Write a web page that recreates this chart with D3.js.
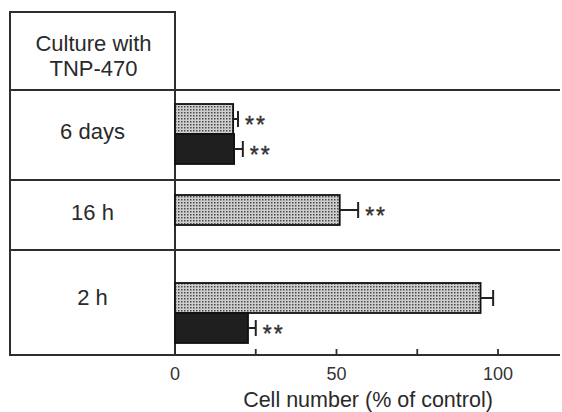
<!DOCTYPE html>
<html>
<head>
<meta charset="utf-8">
<script src="https://cdn.jsdelivr.net/npm/d3@7/dist/d3.min.js"></script>
<style>
  html, body { margin: 0; padding: 0; background: #fff; }
  svg { display: block; font-family: "Liberation Sans", Arial, Helvetica, sans-serif; }
</style>
</head>
<body>
<svg id="chart" width="562" height="412"></svg>
<script>
// ---------- data ----------
const categories = ["6 days", "16 h", "2 h"];
const seriesNames = ["stippled", "dark"];
const stippledValues = [18, 51, 94.6];
const stippledErrors = [1.5, 5.7, 3.9];
const stippledSig = ["**", "**", ""];
const darkValues = [18.3, null, 22.6];
const darkErrors = [2.7, null, 2.4];
const darkSig = ["**", null, "**"];
const majorTicks = [0, 50, 100];
const minorTicks = [25, 75];
const tickLabels = ["0", "50", "100"];
const headerLines = ["Culture with", "TNP-470"];
const xTitle = "Cell number (% of control)";

// ---------- layout ----------
const leftX = 10, axisX = 175, rightX = 560;
const topY = 12, headerBottom = 90, bottomY = 355;
const rowBottoms = [180, 250, 355];
const groupTops = [104, 195, 283];
const labelBaselines = [139, 220, 305];
const barH = 30;

const svg = d3.select("#chart");

const defs = svg.append("defs");
const pat = defs.append("pattern")
  .attr("id", "stipple").attr("patternUnits", "userSpaceOnUse")
  .attr("width", 3).attr("height", 3);
pat.append("rect").attr("width", 3).attr("height", 3).attr("fill", "#cecece");
pat.append("rect").attr("x", 1).attr("y", 1).attr("width", 1.5).attr("height", 1.5).attr("fill", "#4a4a4a");

const x = d3.scaleLinear().domain([0, 100]).range([axisX, 498]);
const yGroup = d3.scaleOrdinal().domain(categories).range(groupTops);
const ySeries = d3.scaleBand().domain(seriesNames).range([0, 2 * barH]);

const lineColor = "#2e2e2e";
const lw = 2;
const textColor = "#2a2a2a";

// table frame
const g = svg.append("g");
g.append("line").attr("x1", leftX).attr("x2", axisX).attr("y1", topY).attr("y2", topY)
  .attr("stroke", lineColor).attr("stroke-width", lw);
g.append("line").attr("x1", leftX).attr("x2", leftX).attr("y1", topY - 1).attr("y2", bottomY + 1)
  .attr("stroke", lineColor).attr("stroke-width", lw);
g.append("line").attr("x1", axisX).attr("x2", axisX).attr("y1", topY - 1).attr("y2", bottomY)
  .attr("stroke", lineColor).attr("stroke-width", lw);
[headerBottom].concat(rowBottoms.slice(0, 2)).forEach(yy => {
  g.append("line").attr("x1", leftX).attr("x2", rightX).attr("y1", yy).attr("y2", yy)
    .attr("stroke", lineColor).attr("stroke-width", lw);
});

// header text
g.selectAll("text.header").data(headerLines).join("text")
  .attr("class", "header")
  .attr("x", (leftX + axisX) / 2 + 1)
  .attr("y", (d, i) => 51 + i * 25)
  .attr("text-anchor", "middle")
  .attr("font-size", 22)
  .attr("fill", textColor)
  .text(d => d);

// category labels
g.selectAll("text.cat").data(categories).join("text")
  .attr("class", "cat")
  .attr("x", (leftX + axisX) / 2)
  .attr("y", (d, i) => labelBaselines[i])
  .attr("text-anchor", "middle")
  .attr("font-size", 22)
  .attr("fill", textColor)
  .text(d => d);

// bars
const barData = [];
categories.forEach((c, i) => {
  barData.push({cat: c, s: "stippled", v: stippledValues[i], e: stippledErrors[i], sig: stippledSig[i]});
  if (darkValues[i] != null) barData.push({cat: c, s: "dark", v: darkValues[i], e: darkErrors[i], sig: darkSig[i]});
});

const bars = svg.append("g");
bars.selectAll("rect").data(barData).join("rect")
  .attr("x", x(0))
  .attr("y", d => yGroup(d.cat) + ySeries(d.s))
  .attr("width", d => x(d.v) - x(0))
  .attr("height", ySeries.bandwidth())
  .attr("fill", d => d.s === "stippled" ? "url(#stipple)" : "#1f1f1f")
  .attr("stroke", "#111")
  .attr("stroke-width", 1.8);

// error bars
const capH = 16;
const err = svg.append("g").attr("stroke", "#222").attr("stroke-width", 2);
barData.forEach(d => {
  const cy = yGroup(d.cat) + ySeries(d.s) + ySeries.bandwidth() / 2;
  err.append("line").attr("x1", x(d.v)).attr("x2", x(d.v + d.e)).attr("y1", cy).attr("y2", cy);
  err.append("line").attr("x1", x(d.v + d.e)).attr("x2", x(d.v + d.e))
    .attr("y1", cy - capH / 2).attr("y2", cy + capH / 2);
});

// significance stars
svg.append("g").selectAll("text").data(barData.filter(d => d.sig)).join("text")
  .attr("x", d => x(d.v + d.e) + 7)
  .attr("y", d => yGroup(d.cat) + ySeries(d.s) + ySeries.bandwidth() / 2 + 14)
  .attr("font-size", 23)
  .attr("letter-spacing", 2)
  .attr("stroke", "#333")
  .attr("stroke-width", 0.4)
  .attr("fill", "#333")
  .text(d => d.sig);

// x axis
g.append("line").attr("x1", leftX - 1).attr("x2", rightX).attr("y1", bottomY).attr("y2", bottomY)
  .attr("stroke", lineColor).attr("stroke-width", lw);
const ticks = svg.append("g").attr("stroke", lineColor).attr("stroke-width", 1.8);
majorTicks.concat(minorTicks).forEach(t => {
  ticks.append("line").attr("x1", x(t)).attr("x2", x(t)).attr("y1", bottomY).attr("y2", bottomY - 6);
});
svg.append("g").selectAll("text").data(majorTicks).join("text")
  .attr("x", d => x(d))
  .attr("y", 380)
  .attr("text-anchor", "middle")
  .attr("font-size", 18)
  .attr("fill", "#333")
  .text((d, i) => tickLabels[i]);

svg.append("text")
  .attr("x", 368).attr("y", 407)
  .attr("text-anchor", "middle")
  .attr("font-size", 21.5)
  .attr("fill", textColor)
  .text(xTitle);
</script>
</body>
</html>
